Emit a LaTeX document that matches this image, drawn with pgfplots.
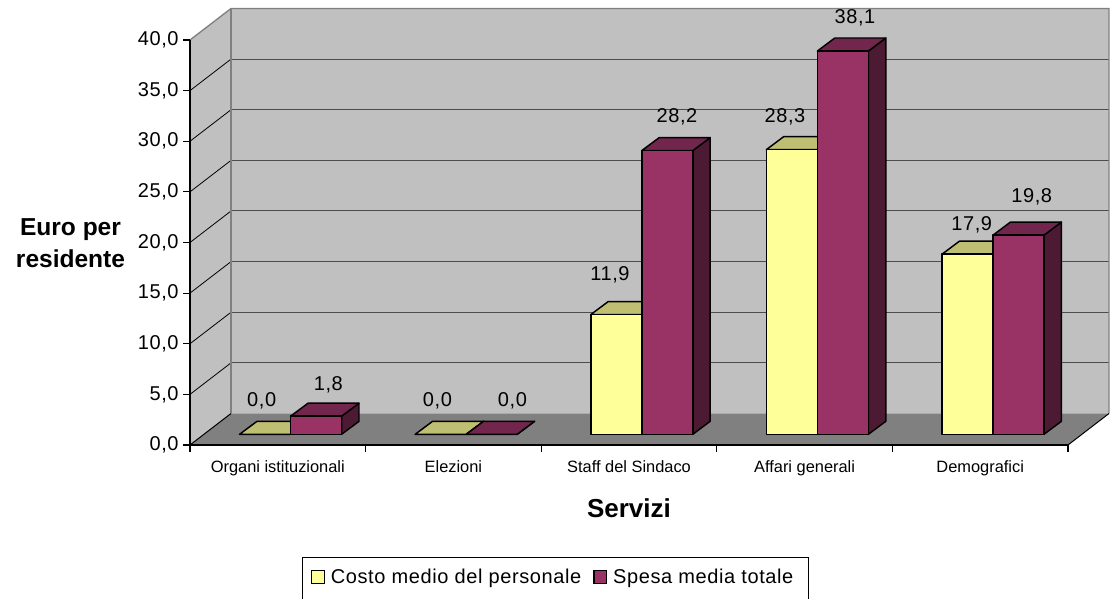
\documentclass[border=0pt]{standalone}
\usepackage{pgfplots}
\pgfplotsset{compat=1.18}
\usepackage{pgfplotstable}
\usepackage{fontspec}
\setmainfont{Liberation Sans}
\newfontfamily\regf[LetterSpace=3]{Liberation Sans}
\newcommand\regfont{\regf\fontsize{15pt}{17.5pt}\selectfont}
\newcommand\catfont{\fontsize{12.3pt}{14pt}\selectfont}
\newcommand\titfont{\fontsize{18.4pt}{24.2pt}\selectfont\bfseries}

\definecolor{yfront}{HTML}{FFFF99}
\definecolor{ytop}{HTML}{BFBF73}
\definecolor{yside}{HTML}{80804D}
\definecolor{mfront}{HTML}{993366}
\definecolor{mtop}{HTML}{73264D}
\definecolor{mside}{HTML}{4D1A33}
\definecolor{wallc}{HTML}{C0C0C0}
\definecolor{floorc}{HTML}{808080}
\definecolor{edgec}{HTML}{808080}

\pgfdeclareplotmark{empty}{}

% x = category centre, v = value, lx/ly = label offset (px)
\pgfplotstableread{
x v lx ly
0.5 0.0 -16.1 45
1.5 0.0 -16.0 45
2.5 11.9 -19.0 51.5
3.5 28.3 -19.6 42.5
4.5 17.9 -8.5 40.5
}\costo
\pgfplotstableread{
x v lx ly
0.5 1.8 50.5 43.5
1.5 0.0 59.0 45
2.5 28.2 48.0 43.5
3.5 38.1 50.4 42.5
4.5 19.8 51.5 49.5
}\spesa

\pgfplotsset{
  bar3d/.style n args={5}{%
    scatter, only marks, mark=empty, point meta=y, forget plot,
    visualization depends on={\thisrow{v} \as \bVal},
    visualization depends on={\thisrow{lx} \as \bLx},
    visualization depends on={\thisrow{ly} \as \bLy},
    scatter/@pre marker code/.code={%
      \pgfmathsetmacro\bTy{(10.7-0.065*\bVal)*0.75}%
      \pgfmathsetmacro\bBy{(10.7-10.125*\bVal)*0.75}%
      \pgfmathsetmacro\bXl{#4*0.75}%
      \pgfmathsetmacro\bXr{#5*0.75}%
      \pgfmathsetmacro\bTyb{\bTy+9.75}%
      \pgfmathsetmacro\bByb{\bBy+9.75}%
      \pgfmathsetmacro\bXlb{\bXl+13.05}%
      \pgfmathsetmacro\bXrb{\bXr+13.05}%
      \pgfmathsetmacro\bLxp{\bLx*0.75}%
      \pgfmathsetmacro\bLyp{(\bLy-7)*0.75}%
      \path[fill=#3, draw=black, line width=1.1pt, line join=round]
        (\bXr pt,\bTy pt) -- (\bXr pt,\bBy pt) -- (\bXrb pt,\bByb pt) -- (\bXrb pt,\bTyb pt) -- cycle;
      \path[fill=#2, draw=black, line width=1.1pt, line join=round]
        (\bXl pt,\bTy pt) -- (\bXr pt,\bTy pt) -- (\bXrb pt,\bTyb pt) -- (\bXlb pt,\bTyb pt) -- cycle;
      \path[fill=#1, draw=black, line width=1.1pt, line join=round]
        (\bXl pt,\bBy pt) rectangle (\bXr pt,\bTy pt);
      \node[anchor=base, inner sep=0pt, font=\regfont, text=black] at (\bLxp pt,\bLyp pt)
        {\pgfmathprintnumber[fixed,fixed zerofill,precision=1,use comma,assume math mode=true]{\bVal}};
    },
    scatter/@post marker code/.code={},
  },
  sqlegend/.style={legend image code/.code={%
    \draw[fill=#1, draw=black, line width=0.9pt] (0pt,-4.6pt) rectangle (9.5pt,4.9pt);}},
}

\begin{document}
\begin{tikzpicture}
\fill[white] (0,0) rectangle (836.25pt,449.25pt);
\path[use as bounding box] (0,0) rectangle (836.25pt,449.25pt);
\begin{axis}[
  at={(142.5pt,115.5pt)}, anchor=south west,
  scale only axis, width=658.5pt, height=303.75pt,
  xmin=0, xmax=5, ymin=0, ymax=40,
  clip=false, axis on top,
  axis lines*=left,
  axis line style={black, line width=0.9pt},
  tick align=outside,
  major tick length=5pt,
  tick style={black, line width=0.9pt},
  xtick={0,1,2,3,4,5}, xticklabels={,,,,,},
  ytick={0,5,...,40},
  yticklabel style={font=\regfont, /pgf/number format/.cd, fixed, fixed zerofill, precision=1, use comma, assume math mode=true},
  extra x ticks={0.5,1.5,2.5,3.5,4.5},
  extra x tick labels={Organi istituzionali,Elezioni,Staff del Sindaco,Affari generali,Demografici},
  extra x tick style={major tick style={draw=none}, xticklabel style={font=\catfont, yshift=-3pt}},
  xlabel={Servizi}, ylabel={Euro per\\residente},
  every axis x label/.style={at={(axis description cs:0.5,-0.1556)}, anchor=center, font=\fontsize{19.5pt}{24pt}\selectfont\bfseries},
  every axis y label/.style={at={(axis description cs:-0.1361,0.4988)}, anchor=center, align=center, font=\titfont},
  legend style={at={(axis description cs:0.4140,-0.3269)}, anchor=center, draw=none, fill=none,
    font=\regfont, inner xsep=6.75pt, inner ysep=2pt,
    /tikz/every odd column/.append style={column sep=2.5pt},
    /tikz/every even column/.append style={column sep=7pt}},
  legend columns=2,
]
% walls and floor
\fill[wallc] (axis cs:0,0) -- (axis cs:0.2335,3.111) -- (axis cs:0.2335,43.111) -- (axis cs:0,40) -- cycle;
\fill[wallc] (axis cs:0.2335,3.111) rectangle (axis cs:5.2335,43.111);
\fill[floorc] (axis cs:0,0) -- (axis cs:5,0) -- (axis cs:5.2335,3.111) -- (axis cs:0.2335,3.111) -- cycle;
% grid lines
\draw[black!70, line width=0.75pt] (axis cs:0.2335,8.111) -- (axis cs:5.2335,8.111);
\draw[black!70, line width=0.75pt] (axis cs:0.2335,13.111) -- (axis cs:5.2335,13.111);
\draw[black!70, line width=0.75pt] (axis cs:0.2335,18.111) -- (axis cs:5.2335,18.111);
\draw[black!70, line width=0.75pt] (axis cs:0.2335,23.111) -- (axis cs:5.2335,23.111);
\draw[black!70, line width=0.75pt] (axis cs:0.2335,28.111) -- (axis cs:5.2335,28.111);
\draw[black!70, line width=0.75pt] (axis cs:0.2335,33.111) -- (axis cs:5.2335,33.111);
\draw[black!70, line width=0.75pt] (axis cs:0.2335,38.111) -- (axis cs:5.2335,38.111);
\draw[black, line width=0.6pt] (axis cs:0,5) -- (axis cs:0.2335,8.111);
\draw[black, line width=0.6pt] (axis cs:0,10) -- (axis cs:0.2335,13.111);
\draw[black, line width=0.6pt] (axis cs:0,15) -- (axis cs:0.2335,18.111);
\draw[black, line width=0.6pt] (axis cs:0,20) -- (axis cs:0.2335,23.111);
\draw[black, line width=0.6pt] (axis cs:0,25) -- (axis cs:0.2335,28.111);
\draw[black, line width=0.6pt] (axis cs:0,30) -- (axis cs:0.2335,33.111);
\draw[black, line width=0.6pt] (axis cs:0,35) -- (axis cs:0.2335,38.111);
% edges
\draw[edgec, line width=1pt] (axis cs:0,40) -- (axis cs:0.2335,43.111) -- (axis cs:5.2335,43.111) -- (axis cs:5.2335,3.111);
\draw[edgec, line width=1pt] (axis cs:0.2335,3.111) -- (axis cs:0.2335,43.111);
\draw[black, line width=0.75pt] (axis cs:0,0) -- (axis cs:0.2335,3.111);
\draw[black, line width=0.75pt] (axis cs:5,0) -- (axis cs:5.2335,3.111);
% legend frame (runs below the picture's lower edge, as in the reference)
\draw[black, line width=0.75pt] (axis description cs:0.1284,-0.2783) rectangle (axis description cs:0.7040,-0.4100);
% bars
\addplot[bar3d={yfront}{ytop}{yside}{-38.2}{12.8}] table[x=x,y=v] {\costo};
\addplot[bar3d={mfront}{mtop}{mside}{12.8}{63.8}] table[x=x,y=v] {\spesa};
\addlegendimage{sqlegend=yfront}
\addlegendentry{Costo medio del personale}
\addlegendimage{sqlegend=mfront}
\addlegendentry{Spesa media totale}
\end{axis}
\end{tikzpicture}
\end{document}
